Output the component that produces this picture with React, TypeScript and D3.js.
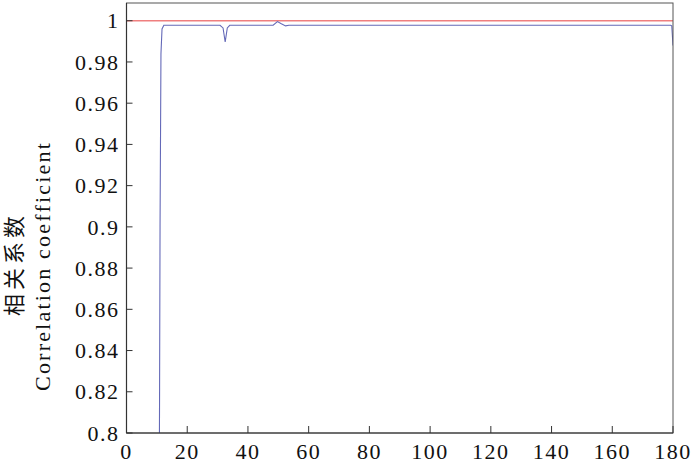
import * as d3 from "d3";

// Blue curve: correlation coefficient vs. index
const curveX = [10.8, 10.9, 11.05, 11.35, 11.7, 12.3, 30.8, 31.8, 32.5, 33.2, 34, 48.3, 49.7, 51, 52.4, 53.5, 179.2, 179.6, 180];
const curveY = [0.78, 0.822, 0.9, 0.984, 0.996, 0.9978, 0.9978, 0.9965, 0.9897, 0.9965, 0.9978, 0.9978, 0.9996, 0.9985, 0.9975, 0.9978, 0.9978, 0.9975, 0.988];

// Red reference line
const refX = [0, 180];
const refY = [1, 1];

const xTicks = [0, 20, 40, 60, 80, 100, 120, 140, 160, 180];
const yTicks = [0.8, 0.82, 0.84, 0.86, 0.88, 0.9, 0.92, 0.94, 0.96, 0.98, 1];

export default function App() {
  const width = 700;
  const height = 461;
  const margin = { top: 3, right: 27, bottom: 28, left: 126.5 };
  const innerW = width - margin.left - margin.right;
  const innerH = height - margin.top - margin.bottom;

  const x = d3.scaleLinear().domain([0, 180]).range([0, innerW]);
  const y = d3.scaleLinear().domain([0.8, 1.0086]).range([innerH, 0]);

  const line = d3
    .line<number>()
    .x((_, i) => x(curveX[i]))
    .y((d) => y(d));
  const refLine = d3
    .line<number>()
    .x((_, i) => x(refX[i]))
    .y((d) => y(d));

  const font = '"Times New Roman", "Liberation Serif", "DejaVu Serif", Times, serif';
  const axisColor = "#333";

  return (
    <svg
      width={width}
      height={height}
      style={{ position: "absolute", left: 0, top: 0, background: "#fff" }}
    >
      <defs>
        <clipPath id="plot-clip">
          <rect width={innerW} height={innerH} />
        </clipPath>
      </defs>
      <g transform={`translate(${margin.left},${margin.top})`}>
        {/* lines */}
        <g clipPath="url(#plot-clip)">
          <path d={refLine(refY) ?? ""} fill="none" stroke="#ef7f7f" strokeWidth={1.3} />
          <path d={line(curveY) ?? ""} fill="none" stroke="#6469b8" strokeWidth={1.1} />
        </g>

        {/* frame */}
        <rect width={innerW} height={innerH} fill="none" stroke="#555" strokeWidth={1} />
        <line x1={0} x2={0} y1={0} y2={innerH} stroke={axisColor} strokeWidth={1.2} />
        <line x1={0} x2={innerW} y1={innerH} y2={innerH} stroke={axisColor} strokeWidth={1.2} />

        {/* x ticks */}
        {xTicks.map((t) => (
          <g key={t} transform={`translate(${x(t)},0)`}>
            <line y1={innerH} y2={innerH - 7} stroke={axisColor} strokeWidth={1} />
            <text
              y={innerH + 26}
              textAnchor="middle"
              fontFamily={font}
              fontSize={22}
              letterSpacing={1.5}
              fill="#111"
            >
              {t}
            </text>
          </g>
        ))}

        {/* y ticks */}
        {yTicks.map((t) => (
          <g key={t} transform={`translate(0,${y(t)})`}>
            <line x1={0} x2={6} stroke={axisColor} strokeWidth={1} />
            <text
              x={-7}
              dy="0.35em"
              textAnchor="end"
              fontFamily={font}
              fontSize={22}
              letterSpacing={1.5}
              fill="#111"
            >
              {String(t)}
            </text>
          </g>
        ))}
      </g>

      {/* y label, two rows */}
      <text
        transform="translate(22,264) rotate(-90)"
        textAnchor="middle"
        fontFamily='"Noto Sans CJK SC", sans-serif'
        fontSize={22}
        letterSpacing={4}
        fill="#111"
      >
        相关系数
      </text>
      <text
        transform="translate(50,266) rotate(-90)"
        textAnchor="middle"
        fontFamily={font}
        fontSize={22}
        letterSpacing={2.2}
        fill="#111"
      >
        Correlation coefficient
      </text>
    </svg>
  );
}
